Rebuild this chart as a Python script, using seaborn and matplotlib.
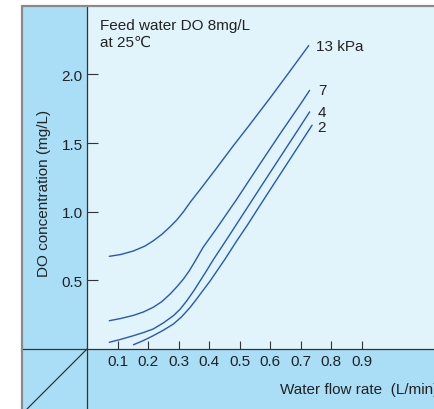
import matplotlib
matplotlib.use("Agg")
import matplotlib.pyplot as plt
import pandas as pd
import seaborn as sns
from matplotlib.lines import Line2D
from matplotlib.patches import Rectangle

# curves (flow rate L/min, DO mg/L)
flow_13 = [0.073, 0.11, 0.152, 0.19, 0.217, 0.245, 0.272, 0.294, 0.316, 0.34, 0.37,
           0.425, 0.479, 0.528, 0.60, 0.66, 0.726]
do_13 = [0.675, 0.688, 0.714, 0.75, 0.788, 0.835, 0.89, 0.94, 1.0, 1.075, 1.16,
         1.32, 1.48, 1.62, 1.83, 2.01, 2.21]

flow_7 = [0.073, 0.11, 0.152, 0.185, 0.217, 0.245, 0.272, 0.295, 0.316, 0.335, 0.354,
          0.38, 0.425, 0.49, 0.567, 0.63, 0.704, 0.729]
do_7 = [0.206, 0.222, 0.245, 0.27, 0.304, 0.345, 0.40, 0.455, 0.51, 0.57, 0.64,
        0.74, 0.88, 1.09, 1.35, 1.56, 1.80, 1.884]

flow_4 = [0.073, 0.11, 0.152, 0.185, 0.217, 0.25, 0.283, 0.305, 0.327, 0.35, 0.37,
          0.392, 0.414, 0.452, 0.49, 0.567, 0.63, 0.69, 0.729]
do_4 = [0.049, 0.07, 0.097, 0.12, 0.146, 0.19, 0.243, 0.29, 0.352, 0.425, 0.495,
        0.572, 0.652, 0.78, 0.91, 1.174, 1.389, 1.593, 1.727]

flow_2 = [0.152, 0.185, 0.217, 0.25, 0.283, 0.31, 0.338, 0.36, 0.381, 0.403, 0.452,
          0.491, 0.523, 0.567, 0.63, 0.69, 0.737]
do_2 = [0.031, 0.062, 0.097, 0.137, 0.182, 0.235, 0.304, 0.367, 0.43, 0.495, 0.655,
        0.79, 0.895, 1.048, 1.264, 1.469, 1.63]

curve_labels = ["13 kPa", "7", "4", "2"]
x_ticks = [0.1, 0.2, 0.3, 0.4, 0.5, 0.6, 0.7, 0.8, 0.9]
y_ticks = [0.5, 1.0, 1.5, 2.0]

LINE_COLOR = "#2758b3"
STRIP_BLUE = "#a9def6"
PLOT_BG = "#e1f3fb"
FRAME_GRAY = "#8a8a8a"
AXIS_DARK = "#333333"
TEXT = "#222222"
FS = 11

rows = []
for lab, xs, ys in zip(curve_labels, [flow_13, flow_7, flow_4, flow_2], [do_13, do_7, do_4, do_2]):
    for x, y in zip(xs, ys):
        rows.append({"flow": x, "do": y, "curve": lab})
df = pd.DataFrame(rows)

sns.set_theme(style="white")
plt.rcParams["font.family"] = ["Liberation Sans", "DejaVu Sans"]

W, H = 434, 410
fig = plt.figure(figsize=(W / 100, H / 100), dpi=100, facecolor="white")


def fx(px):
    return px / W


def fy(py):
    return 1 - py / H


# blue frame background
fig.add_artist(Rectangle((fx(22), -0.05), 1.2, fy(7) + 0.05, transform=fig.transFigure,
                         facecolor=STRIP_BLUE, edgecolor="none", zorder=-5))

ax = fig.add_axes([fx(87), fy(350), fx(434) - fx(87), fy(7) - fy(350)])
ax.set_facecolor(PLOT_BG)

sns.lineplot(data=df, x="flow", y="do", hue="curve", units="curve", estimator=None, sort=False,
             palette={k: LINE_COLOR for k in curve_labels}, linewidth=1.0, legend=False, ax=ax)

ax.set_xlim(0, (434 - 87) / 305.4)
ax.set_ylim(0, (350 - 7) / 137.3)
for s in ax.spines.values():
    s.set_visible(False)

ax.set_xticks(x_ticks)
ax.set_xticklabels([f"{t:.1f}" for t in x_ticks])
ax.set_yticks(y_ticks)
ax.set_yticklabels([f"{t:.1f}" for t in y_ticks])
ax.tick_params(axis="x", direction="in", length=6, width=0.8, color=AXIS_DARK,
               labelsize=FS, labelcolor=TEXT, pad=3.5, bottom=True)
ax.tick_params(axis="y", direction="in", length=8, width=0.8, color=AXIS_DARK,
               labelsize=FS, labelcolor=TEXT, pad=3, left=True)
ax.set_xlabel("")
ax.set_ylabel("")

# curve end labels
offsets = [(5, 0), (6, 0), (6, 0), (4, -1)]
for lab, xs, ys, off in zip(curve_labels, [flow_13, flow_7, flow_4, flow_2],
                            [do_13, do_7, do_4, do_2], offsets):
    ax.annotate(lab, (xs[-1], ys[-1]), xytext=off, textcoords="offset points",
                ha="left", va="center", fontsize=FS, color=TEXT)

ax.text((100 - 87) / 347, 1 - 12 / 343, "Feed water DO 8mg/L\nat 25℃",
        transform=ax.transAxes, ha="left", va="top", fontsize=FS, color=TEXT,
        linespacing=1.25)

# axis lines running through the frame
fig.add_artist(Line2D([fx(22), 1.0], [fy(350), fy(350)], transform=fig.transFigure,
                      color=AXIS_DARK, linewidth=0.9, zorder=5))
fig.add_artist(Line2D([fx(87), fx(87)], [0, fy(7)], transform=fig.transFigure,
                      color=AXIS_DARK, linewidth=0.9, zorder=5))
fig.add_artist(Line2D([fx(87), fx(27)], [fy(350), fy(410)], transform=fig.transFigure,
                      color=AXIS_DARK, linewidth=0.9, zorder=5))
# gray frame edges
fig.add_artist(Line2D([fx(22), fx(22)], [0, fy(7)], transform=fig.transFigure,
                      color=FRAME_GRAY, linewidth=1.6, zorder=6))
fig.add_artist(Line2D([fx(22), 1.0], [fy(7), fy(7)], transform=fig.transFigure,
                      color=FRAME_GRAY, linewidth=1.6, zorder=6))

# the reference crops this label at the right edge
fig.text(fx(280), fy(390), "Water flow rate  (L/min)", ha="left", va="center",
         fontsize=FS, color=TEXT)
fig.text(fx(44), fy(193), "DO concentration (mg/L)", ha="center", va="center",
         rotation=90, fontsize=FS, color=TEXT)

fig.savefig("out.png", dpi=100, facecolor="white")
